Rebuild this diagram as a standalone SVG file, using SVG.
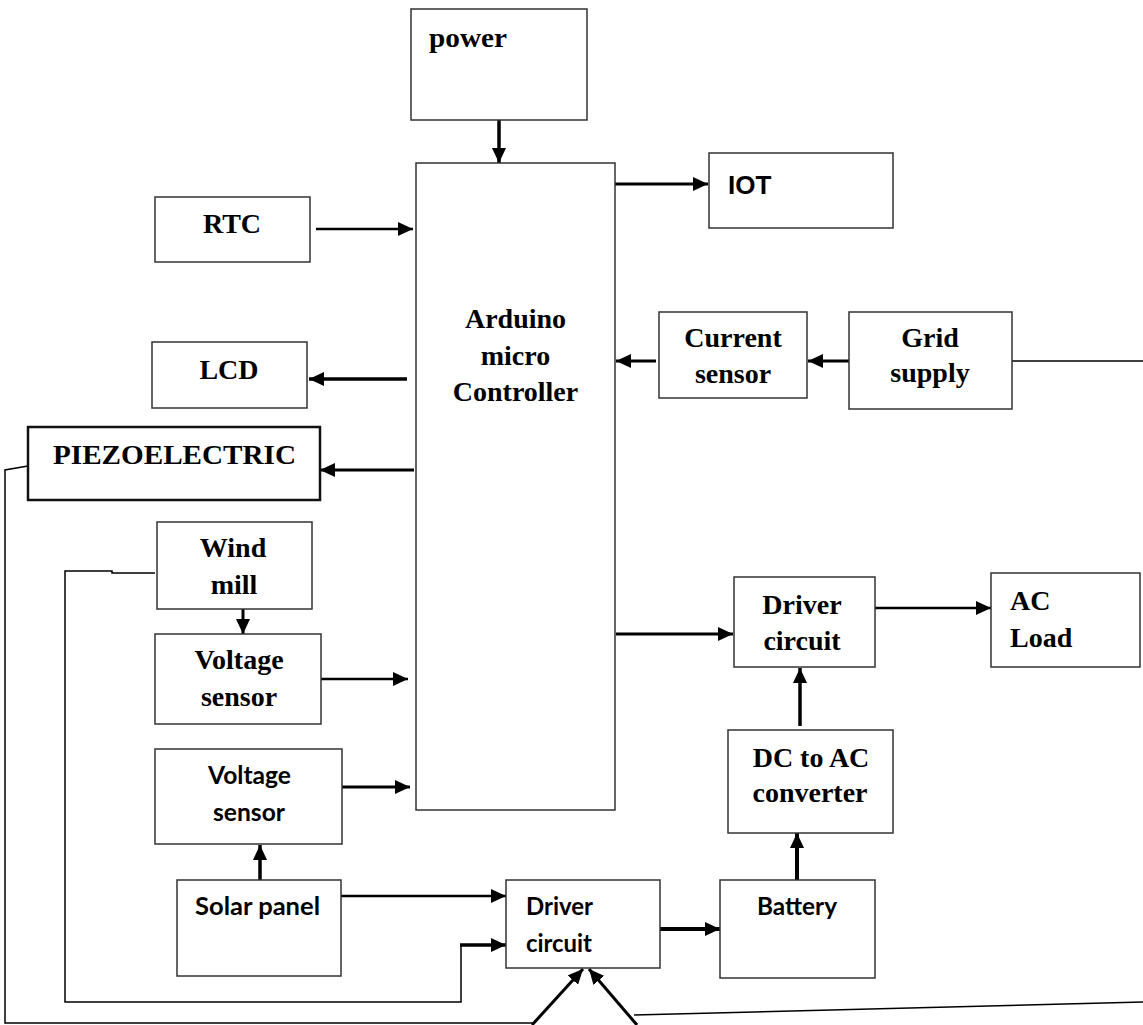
<svg xmlns="http://www.w3.org/2000/svg" width="1143" height="1025" viewBox="0 0 1143 1025">
<style>
.box{fill:#fff;stroke:#333;stroke-width:1.5}
.thick{fill:#fff;stroke:#111;stroke-width:2.5}
.t{font-family:"Liberation Serif","Times New Roman",serif;font-weight:bold;font-size:28px;fill:#000}
.c{font-family:Lato,"Open Sans",sans-serif;font-weight:bold;font-size:24px;fill:#000}
.a{font-family:"Liberation Sans",Arial,sans-serif;font-weight:bold;font-size:26px;fill:#000}
.m{text-anchor:middle}
.ln{fill:none;stroke:#000;stroke-width:2.5}
.th{fill:none;stroke:#000;stroke-width:1.5}
.ar{marker-end:url(#ah)}
</style>
<defs>
<marker id="ah" markerUnits="userSpaceOnUse" markerWidth="16" markerHeight="14" refX="15" refY="7" orient="auto">
<path d="M0,0 L15,7 L0,14 z" fill="#000"/>
</marker>
</defs>
<rect width="1143" height="1025" fill="#fff"/>

<g id="connectors">
<line class="ln ar" x1="499" y1="120" x2="499" y2="163" style="stroke-width:3.5"/>
<line class="ln ar" x1="614" y1="184" x2="708" y2="184" style="stroke-width:3"/>
<line class="ln ar" x1="316" y1="229" x2="413" y2="229"/>
<line class="ln ar" x1="407" y1="379" x2="309" y2="379" style="stroke-width:3.5"/>
<line class="ln ar" x1="414" y1="470" x2="320" y2="470" style="stroke-width:3"/>
<line class="ln ar" x1="656" y1="361" x2="616" y2="361" style="stroke-width:3"/>
<line class="ln ar" x1="851" y1="361" x2="808" y2="361" style="stroke-width:3"/>
<line class="th" x1="1012" y1="361" x2="1143" y2="361"/>
<line class="ln ar" x1="243" y1="609" x2="243" y2="634" style="stroke-width:3"/>
<line class="ln ar" x1="321" y1="679" x2="408" y2="679"/>
<line class="ln ar" x1="342" y1="787" x2="410" y2="787" style="stroke-width:3"/>
<line class="ln ar" x1="260" y1="880" x2="260" y2="845" style="stroke-width:3.5"/>
<line class="ln ar" x1="341" y1="896" x2="506" y2="896"/>
<polyline class="th" points="155,573 112,573 112,571 65,571 65,1002 461,1002 461,945"/>
<line class="ln ar" x1="460" y1="945" x2="506" y2="945" style="stroke-width:3.5"/>
<polyline class="th" points="28,466 5,470 5,1023 533,1023"/>
<line class="ln ar" x1="532" y1="1025" x2="583" y2="969" style="stroke-width:3"/>
<line class="ln ar" x1="637" y1="1025" x2="589" y2="969" style="stroke-width:3"/>
<line class="th" x1="634" y1="1015" x2="1143" y2="1002"/>
<line class="ln ar" x1="660" y1="929" x2="720" y2="929" style="stroke-width:4"/>
<line class="ln ar" x1="797" y1="880" x2="797" y2="833" style="stroke-width:4"/>
<line class="ln ar" x1="800" y1="726" x2="800" y2="668" style="stroke-width:3.5"/>
<line class="ln ar" x1="616" y1="634" x2="733" y2="634" style="stroke-width:3"/>
<line class="ln ar" x1="865" y1="608" x2="991" y2="608"/>
</g>

<g id="power"><rect class="box" x="411" y="9" width="176" height="111"/><text class="t" x="429" y="47" textLength="78" lengthAdjust="spacingAndGlyphs">power</text></g>
<g id="arduino"><rect class="box" x="416" y="163" width="199" height="647"/>
<text class="t m" x="515.5" y="328">Arduino</text>
<text class="t m" x="515.5" y="365">micro</text>
<text class="t m" x="515.5" y="401">Controller</text></g>
<g id="iot"><rect class="box" x="709" y="153" width="184" height="75"/><text class="a" x="728" y="194">IOT</text></g>
<g id="rtc"><rect class="box" x="155" y="197" width="155" height="65"/><text class="t m" x="232" y="233">RTC</text></g>
<g id="lcd"><rect class="box" x="152" y="342" width="155" height="66"/><text class="t m" x="229" y="379">LCD</text></g>
<g id="piezo"><rect class="thick" x="28" y="427" width="292" height="73"/><text class="t" x="53" y="464" textLength="243" lengthAdjust="spacingAndGlyphs">PIEZOELECTRIC</text></g>
<g id="current-sensor"><rect class="box" x="659" y="312" width="148" height="86"/><text class="t m" x="733" y="347">Current</text><text class="t m" x="733" y="383">sensor</text></g>
<g id="grid-supply"><rect class="box" x="849" y="312" width="163" height="97"/><text class="t m" x="930" y="347">Grid</text><text class="t m" x="930" y="382">supply</text></g>
<g id="wind-mill"><rect class="box" x="157" y="522" width="155" height="87"/><text class="t m" x="233" y="557">Wind</text><text class="t m" x="234" y="594">mill</text></g>
<g id="voltage-sensor-1"><rect class="box" x="155" y="634" width="166" height="90"/><text class="t m" x="239" y="669">Voltage</text><text class="t m" x="239" y="706">sensor</text></g>
<g id="voltage-sensor-2"><rect class="box" x="155" y="749" width="187" height="95"/><text class="c" x="208" y="784" textLength="83" lengthAdjust="spacingAndGlyphs">Voltage</text><text class="c" x="213" y="821" textLength="72" lengthAdjust="spacingAndGlyphs">sensor</text></g>
<g id="solar-panel"><rect class="box" x="177" y="880" width="164" height="96"/><text class="c" x="195" y="915" textLength="125" lengthAdjust="spacingAndGlyphs">Solar panel</text></g>
<g id="driver-circuit-lower"><rect class="box" x="506" y="880" width="154" height="88"/><text class="c" x="526" y="915" textLength="67" lengthAdjust="spacingAndGlyphs">Driver</text><text class="c" x="526" y="952" textLength="66" lengthAdjust="spacingAndGlyphs">circuit</text></g>
<g id="battery"><rect class="box" x="720" y="880" width="155" height="98"/><text class="c" x="757" y="915" textLength="80" lengthAdjust="spacingAndGlyphs">Battery</text></g>
<g id="dc-ac"><rect class="box" x="728" y="730" width="165" height="103"/><text class="t m" x="811" y="767">DC to AC</text><text class="t m" x="810" y="802">converter</text></g>
<g id="driver-circuit-upper"><rect class="box" x="734" y="577" width="141" height="90"/><text class="t m" x="802" y="614">Driver</text><text class="t m" x="802" y="650">circuit</text></g>
<g id="ac-load"><rect class="box" x="991" y="573" width="149" height="94"/><text class="t" x="1010" y="610">AC</text><text class="t" x="1010" y="647">Load</text></g>
</svg>
